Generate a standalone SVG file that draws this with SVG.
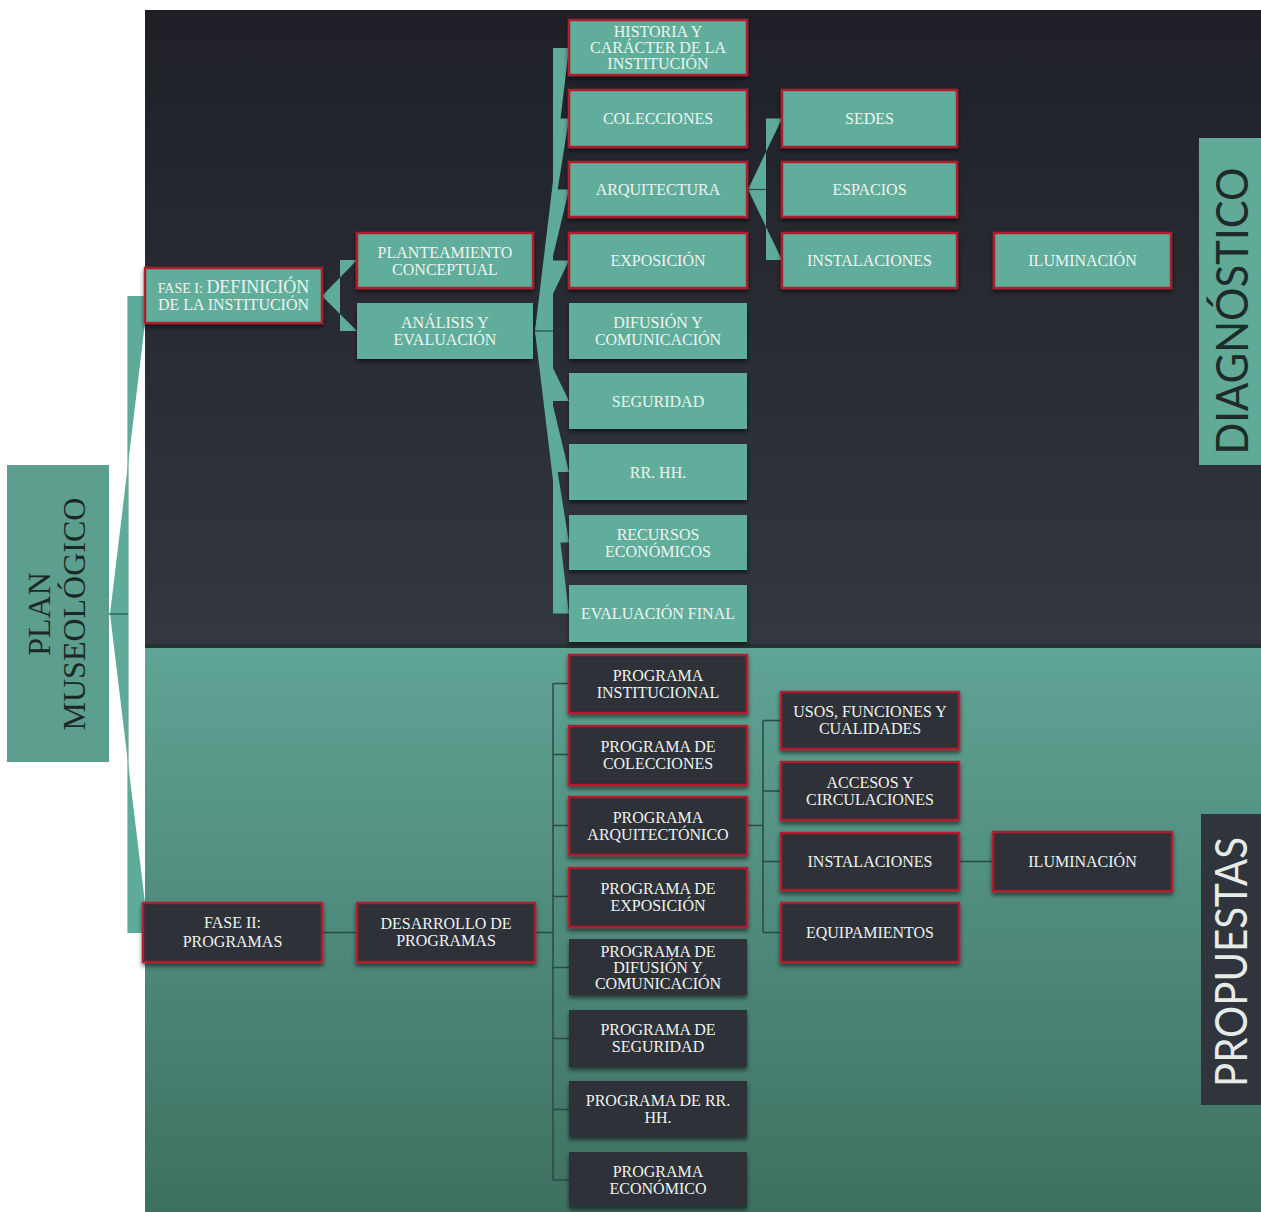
<svg xmlns="http://www.w3.org/2000/svg" width="1261" height="1212" viewBox="0 0 1261 1212">
<defs>
<linearGradient id="gTop" x1="0" y1="0" x2="0" y2="1"><stop offset="0" stop-color="#1e2026"/><stop offset="1" stop-color="#33373f"/></linearGradient>
<linearGradient id="gBot" x1="0" y1="0" x2="0" y2="1"><stop offset="0" stop-color="#5fa494"/><stop offset="1" stop-color="#3e7061"/></linearGradient>
<filter id="sh" x="-10%" y="-20%" width="120%" height="150%"><feDropShadow dx="0" dy="3" stdDeviation="2" flood-color="#000" flood-opacity="0.55"/></filter>
<style>
.tb{fill:#61ad9b;filter:url(#sh)}
.db{fill:#2e3139;filter:url(#sh)}
.red{stroke:#b11f2d;stroke-width:2.5}
.t{font-family:"Liberation Serif",serif;font-size:16px;fill:#eef4f0;text-anchor:middle}
.tc{fill:#5fab99}
.ln{stroke:#2a4a43;stroke-width:1.5;fill:none}
.lnd{stroke:#2c4f47;stroke-width:1.2;fill:none}
</style>
</defs>
<rect width="1261" height="1212" fill="#ffffff"/>
<rect x="145" y="10" width="1116" height="638" fill="url(#gTop)"/>
<rect x="145" y="648" width="1116" height="564" fill="url(#gBot)"/>
<rect x="145" y="644" width="1116" height="4" fill="#253232"/>

<g id="connectors">
  <polygon class="tc" points="128,296 145,296 145,323 110,614 128,614"/>
  <polygon class="tc" points="128,933 145,933 145,903 110,614 128,614"/>
  <line x1="128" y1="296" x2="128" y2="933" stroke="#5fab99" stroke-width="1.2"/>
  <line class="lnd" x1="109" y1="614" x2="128" y2="614"/>
  <polygon class="tc" points="340,260 357,260 322,296 340,296"/>
  <polygon class="tc" points="340,331 357,331 322,296 340,296"/>
  <polygon class="tc" points="553,48 569,48 535,331 553,331"/>
  <polygon class="tc" points="553,118.5 569,118.5 535,331 553,331"/>
  <polygon class="tc" points="553,189.5 569,189.5 535,331 553,331"/>
  <polygon class="tc" points="553,260.5 569,260.5 535,331 553,331"/>
  <polygon class="tc" points="553,401 569,401 535,331 553,331"/>
  <polygon class="tc" points="553,472 569,472 535,331 553,331"/>
  <polygon class="tc" points="553,542.5 569,542.5 535,331 553,331"/>
  <polygon class="tc" points="553,613.5 569,613.5 535,331 553,331"/>
  <line class="lnd" x1="533" y1="331" x2="553" y2="331"/>
  <polygon class="tc" points="766,118.5 782,118.5 748,189.5 766,189.5"/>
  <polygon class="tc" points="766,260 782,260 748,189.5 766,189.5"/>
  <line class="lnd" x1="747" y1="189.5" x2="766" y2="189.5"/>
  <line class="ln" x1="322" y1="932.5" x2="357" y2="932.5"/>
  <line class="ln" x1="535" y1="932.5" x2="553" y2="932.5"/>
  <line class="ln" x1="553" y1="683.5" x2="553" y2="1180"/>
  <path class="ln" d="M553,683.5H569M553,754.5H569M553,825.5H569M553,896.5H569M553,967.5H569M553,1038.5H569M553,1109.5H569M553,1180H569"/>
  <line class="ln" x1="747" y1="825.5" x2="763" y2="825.5"/>
  <line class="ln" x1="763" y1="720.5" x2="763" y2="932.5"/>
  <path class="ln" d="M763,720.5H781M763,791H781M763,861.5H781M763,932.5H781"/>
  <line class="ln" x1="959" y1="861.5" x2="993" y2="861.5"/>
</g>

<g id="plan">
  <rect x="7" y="465" width="102" height="297" fill="#5c9f8f"/>
  <g transform="translate(58,614) rotate(-90)" font-family="Liberation Serif, serif" font-size="32" fill="#1c2826" text-anchor="middle">
    <text x="0" y="-8">PLAN</text>
    <text x="0" y="27">MUSEOLÓGICO</text>
  </g>
</g>

<g id="fase1"><rect class="tb red" x="145" y="268" width="177" height="55"/>
  <text class="t" x="233.5" y="292.5"><tspan font-size="14">FASE I: </tspan><tspan font-size="18">DEFINICIÓN</tspan></text>
  <text class="t" x="233.5" y="309.5">DE LA INSTITUCIÓN</text></g>
<g id="planteamiento"><rect class="tb red" x="357" y="233" width="176" height="55"/>
  <text class="t" x="445" y="257.5">PLANTEAMIENTO</text><text class="t" x="445" y="274.5">CONCEPTUAL</text></g>
<g id="analisis"><rect class="tb" x="357" y="303" width="176" height="56"/>
  <text class="t" x="445" y="328">ANÁLISIS Y</text><text class="t" x="445" y="345">EVALUACIÓN</text></g>

<g id="historia"><rect class="tb red" x="569" y="20" width="178" height="55"/>
  <text class="t" x="658" y="37">HISTORIA Y</text><text class="t" x="658" y="53">CARÁCTER DE LA</text><text class="t" x="658" y="69">INSTITUCIÓN</text></g>
<g id="colecciones"><rect class="tb red" x="569" y="90" width="178" height="57"/>
  <text class="t" x="658" y="124">COLECCIONES</text></g>
<g id="arquitectura"><rect class="tb red" x="569" y="162" width="178" height="55"/>
  <text class="t" x="658" y="195">ARQUITECTURA</text></g>
<g id="exposicion"><rect class="tb red" x="569" y="233" width="178" height="55"/>
  <text class="t" x="658" y="266">EXPOSICIÓN</text></g>
<g id="difusion"><rect class="tb" x="569" y="303" width="178" height="56"/>
  <text class="t" x="658" y="328">DIFUSIÓN Y</text><text class="t" x="658" y="345">COMUNICACIÓN</text></g>
<g id="seguridad"><rect class="tb" x="569" y="373" width="178" height="56"/>
  <text class="t" x="658" y="406.5">SEGURIDAD</text></g>
<g id="rrhh"><rect class="tb" x="569" y="444" width="178" height="56"/>
  <text class="t" x="658" y="477.5">RR. HH.</text></g>
<g id="recursos"><rect class="tb" x="569" y="515" width="178" height="55"/>
  <text class="t" x="658" y="539.5">RECURSOS</text><text class="t" x="658" y="556.5">ECONÓMICOS</text></g>
<g id="evaluacion"><rect class="tb" x="569" y="585" width="178" height="57"/>
  <text class="t" x="658" y="619">EVALUACIÓN FINAL</text></g>

<g id="sedes"><rect class="tb red" x="782" y="90" width="175" height="57"/>
  <text class="t" x="869.5" y="124">SEDES</text></g>
<g id="espacios"><rect class="tb red" x="782" y="162" width="175" height="55"/>
  <text class="t" x="869.5" y="195">ESPACIOS</text></g>
<g id="instalaciones1"><rect class="tb red" x="782" y="233" width="175" height="55"/>
  <text class="t" x="869.5" y="265.5">INSTALACIONES</text></g>
<g id="iluminacion1"><rect class="tb red" x="994" y="233" width="177" height="55"/>
  <text class="t" x="1082.5" y="265.5">ILUMINACIÓN</text></g>

<g id="diagnostico"><rect x="1199" y="138" width="62" height="327" fill="#62aa98"/>
  <text transform="translate(1248,311) rotate(-90)" x="0" y="0" font-family="Lato, sans-serif" font-size="44" fill="#1d2b29" text-anchor="middle" textLength="287" lengthAdjust="spacingAndGlyphs">DIAGNÓSTICO</text></g>

<g id="fase2"><rect class="db red" x="143" y="903" width="179" height="59"/>
  <text class="t" x="232.5" y="928" font-size="19">FASE II:</text><text class="t" x="232.5" y="947" font-size="19">PROGRAMAS</text></g>
<g id="desarrollo"><rect class="db red" x="357" y="903" width="178" height="59"/>
  <text class="t" x="446" y="929">DESARROLLO DE</text><text class="t" x="446" y="946">PROGRAMAS</text></g>

<g id="p-institucional"><rect class="db red" x="569" y="655" width="178" height="58"/>
  <text class="t" x="658" y="681">PROGRAMA</text><text class="t" x="658" y="698">INSTITUCIONAL</text></g>
<g id="p-colecciones"><rect class="db red" x="569" y="726" width="178" height="59"/>
  <text class="t" x="658" y="752">PROGRAMA DE</text><text class="t" x="658" y="769">COLECCIONES</text></g>
<g id="p-arquitectonico"><rect class="db red" x="569" y="797" width="178" height="58"/>
  <text class="t" x="658" y="823">PROGRAMA</text><text class="t" x="658" y="840">ARQUITECTÓNICO</text></g>
<g id="p-exposicion"><rect class="db red" x="569" y="868" width="178" height="59"/>
  <text class="t" x="658" y="894">PROGRAMA DE</text><text class="t" x="658" y="911">EXPOSICIÓN</text></g>
<g id="p-difusion"><rect class="db" x="569" y="939" width="178" height="56"/>
  <text class="t" x="658" y="956.5">PROGRAMA DE</text><text class="t" x="658" y="972.5">DIFUSIÓN Y</text><text class="t" x="658" y="988.5">COMUNICACIÓN</text></g>
<g id="p-seguridad"><rect class="db" x="569" y="1010" width="178" height="57"/>
  <text class="t" x="658" y="1035">PROGRAMA DE</text><text class="t" x="658" y="1052">SEGURIDAD</text></g>
<g id="p-rrhh"><rect class="db" x="569" y="1081" width="178" height="56"/>
  <text class="t" x="658" y="1105.5">PROGRAMA DE RR.</text><text class="t" x="658" y="1122.5">HH.</text></g>
<g id="p-economico"><rect class="db" x="569" y="1152" width="178" height="55"/>
  <text class="t" x="658" y="1176.5">PROGRAMA</text><text class="t" x="658" y="1193.5">ECONÓMICO</text></g>

<g id="usos"><rect class="db red" x="781" y="692" width="178" height="57"/>
  <text class="t" x="870" y="717">USOS, FUNCIONES Y</text><text class="t" x="870" y="734">CUALIDADES</text></g>
<g id="accesos"><rect class="db red" x="781" y="762" width="178" height="58"/>
  <text class="t" x="870" y="787.5">ACCESOS Y</text><text class="t" x="870" y="804.5">CIRCULACIONES</text></g>
<g id="instalaciones2"><rect class="db red" x="781" y="833" width="178" height="57"/>
  <text class="t" x="870" y="867">INSTALACIONES</text></g>
<g id="equipamientos"><rect class="db red" x="781" y="903" width="178" height="59"/>
  <text class="t" x="870" y="938">EQUIPAMIENTOS</text></g>
<g id="iluminacion2"><rect class="db red" x="993" y="832" width="179" height="59"/>
  <text class="t" x="1082.5" y="867">ILUMINACIÓN</text></g>

<g id="propuestas"><rect x="1201" y="814" width="60" height="291" fill="#30343c"/>
  <text transform="translate(1247,962) rotate(-90)" x="0" y="0" font-family="Lato, sans-serif" font-size="44" fill="#e5ece8" text-anchor="middle" textLength="250" lengthAdjust="spacingAndGlyphs">PROPUESTAS</text></g>
</svg>
